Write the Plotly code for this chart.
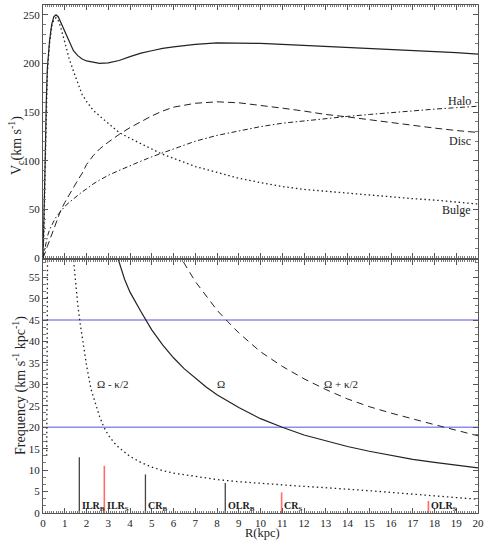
import plotly.graph_objects as go

# ---------------- top panel: rotation curves ----------------
R_top = [0, 0.05, 0.1, 0.15, 0.2, 0.3, 0.4, 0.5, 0.6, 0.7, 0.8, 1.0, 1.2, 1.4, 1.6, 1.8,
         2.0, 2.3, 2.6, 3.0, 3.5, 4.0, 4.5, 5.0, 5.5, 6, 7, 8, 9, 10, 11, 12, 13, 14,
         15, 16, 17, 18, 19, 20]
V_total = [0, 40, 100, 160, 195, 223, 240, 248, 250, 248, 243, 232, 222, 213, 208, 204.5,
           202.5, 201, 200, 200.5, 203, 207, 210.5, 213, 215.5, 217, 219.5, 221, 221, 220.5,
           219.5, 218.5, 217.5, 216.5, 215.5, 214, 213, 212, 211, 209.5]
V_bulge = [0, 35, 95, 155, 190, 220, 238, 245, 247, 244, 238, 222, 205, 192, 179, 168,
           161, 152, 146, 138.5, 129, 123, 117.5, 111.5, 106.5, 102.5, 94, 88, 82, 77.5,
           73.5, 70.5, 68.5, 66.5, 64.5, 62.5, 61, 59.5, 57.5, 55.5]
V_disc = [0, 2.5, 5, 8.5, 12, 18, 25, 32, 38, 43, 48, 57, 65, 73, 80, 87,
          96, 105, 112, 119, 127, 134, 140, 146, 151, 155, 159, 160.5, 159.5, 157,
          154, 151, 147.5, 145, 142, 139, 136, 133.5, 131, 129]
V_halo = [0, 6, 12, 17, 22, 29, 34, 38, 42, 45, 48, 53, 57, 61, 65, 68,
          71, 76, 80, 85, 90, 95, 99.5, 104, 108, 112, 120, 126, 130.5, 135,
          138.5, 141, 143.5, 145.5, 147.5, 149.5, 151.5, 153, 154.5, 156]

# ---------------- bottom panel: frequencies ----------------
R_omega = [3.0, 3.25, 3.5, 3.75, 4.0, 4.5, 5.0, 5.5, 6.0, 6.5, 7.0, 7.5, 8.0, 9, 10, 11,
           12, 13, 14, 15, 16, 17, 18, 19, 20]
Omega = [67, 62.5, 58.5, 54.5, 51.5, 47, 42.7, 39.2, 36.2, 33.6, 31.4, 29.4, 27.6, 24.6,
         22, 20, 18.2, 16.8, 15.5, 14.4, 13.4, 12.5, 11.8, 11.1, 10.5]

R_minus = [1.35, 1.4, 1.5, 1.6, 1.7, 1.8, 2.0, 2.2, 2.4, 2.6, 2.8, 3.0, 3.25, 3.5, 4, 4.5,
           5, 5.5, 6, 7, 8, 9, 10, 11, 12, 13, 14, 15, 16, 17, 18, 19, 20]
Omega_minus = [62, 59, 53, 48.5, 44.5, 41, 34.5, 29, 25.5, 22.5, 20, 18.2, 16.5, 15.2,
               13.2, 11.8, 10.7, 9.9, 9.3, 8.5, 7.8, 7.3, 6.9, 6.6, 6.2, 5.9, 5.6, 5.2,
               4.8, 4.4, 4.0, 3.6, 3.2]
R_minus_inner = [0.21, 0.2, 0.19, 0.18, 0.17]
Omega_minus_inner = [62, 45, 30, 20, 13]

R_plus = [6.2, 6.4, 7, 7.5, 8, 8.5, 9, 10, 11, 12, 13, 14, 15, 16, 17, 18, 19, 20]
Omega_plus = [61, 59, 54, 50.5, 47.3, 44.6, 42, 37.6, 34.2, 31.3, 28.8, 26.6, 24.8,
              23.3, 21.9, 20.6, 19.3, 18]

pattern_speeds = [45, 20]

res_names = ["ILR<sub>B</sub>", "ILR<sub>S</sub>", "CR<sub>B</sub>", "OLR<sub>B</sub>",
             "CR<sub>S</sub>", "OLR<sub>S</sub>"]
res_R = [1.67, 2.82, 4.71, 8.38, 10.97, 17.72]
res_h = [13, 11, 9, 7, 4.8, 2.8]
res_bar = ["B", "S", "B", "B", "S", "S"]

top_labels = ["Halo", "Disc", "Bulge"]
top_label_y = [161, 120, 49]

FONT = "Liberation Serif"
INK = "#222222"

fig = go.Figure()

# top curves
fig.add_trace(go.Scatter(x=R_top, y=V_total, mode="lines", line=dict(color=INK, width=1.2),
                         xaxis="x", yaxis="y", showlegend=False))
fig.add_trace(go.Scatter(x=R_top, y=V_bulge, mode="lines",
                         line=dict(color=INK, width=1.3, dash="1.5px,2.8px"),
                         xaxis="x", yaxis="y", showlegend=False))
fig.add_trace(go.Scatter(x=R_top, y=V_disc, mode="lines",
                         line=dict(color=INK, width=1, dash="7px,4px"),
                         xaxis="x", yaxis="y", showlegend=False))
fig.add_trace(go.Scatter(x=R_top, y=V_halo, mode="lines",
                         line=dict(color=INK, width=1, dash="5px,2.5px,1.5px,2.5px"),
                         xaxis="x", yaxis="y", showlegend=False))

# bottom: pattern-speed lines
for ps in pattern_speeds:
    fig.add_trace(go.Scatter(x=[0, 20], y=[ps, ps], mode="lines",
                             line=dict(color="#8c8cf5", width=1.5),
                             xaxis="x2", yaxis="y2", showlegend=False))

fig.add_trace(go.Scatter(x=R_omega, y=Omega, mode="lines", line=dict(color=INK, width=1.2),
                         xaxis="x2", yaxis="y2", showlegend=False))
fig.add_trace(go.Scatter(x=R_minus, y=Omega_minus, mode="lines",
                         line=dict(color=INK, width=1.3, dash="1.5px,3px"),
                         xaxis="x2", yaxis="y2", showlegend=False))
fig.add_trace(go.Scatter(x=R_minus_inner, y=Omega_minus_inner, mode="lines",
                         line=dict(color=INK, width=1.3, dash="1.5px,3px"),
                         xaxis="x2", yaxis="y2", showlegend=False))
fig.add_trace(go.Scatter(x=R_plus, y=Omega_plus, mode="lines",
                         line=dict(color=INK, width=1, dash="7px,5px"),
                         xaxis="x2", yaxis="y2", showlegend=False))

# resonance bars
for name, r, h, b in zip(res_names, res_R, res_h, res_bar):
    col = "#ff6b6b" if b == "S" else "#444444"
    w = 1.6 if b == "S" else 1.3
    fig.add_trace(go.Scatter(x=[r, r], y=[0, h], mode="lines", line=dict(color=col, width=w),
                             xaxis="x2", yaxis="y2", showlegend=False))

L, Rm, T, B = 43, 13, 5, 27
W, H = 491, 540
pw, ph = W - L - Rm, H - T - B


def px_to_paper(px, py):
    return (px - L) / pw, (H - B - py) / ph


annotations = []
for name, r in zip(res_names, res_R):
    annotations.append(dict(x=r + 0.04, y=0, xref="x2", yref="y2", text="<b>" + name + "</b>",
                            showarrow=False, xanchor="left", yanchor="bottom", yshift=-2,
                            font=dict(family=FONT, size=10, color=INK)))
for t, yv in zip(top_labels, top_label_y):
    annotations.append(dict(x=19.75, y=yv, xref="x", yref="y", text=t, showarrow=False,
                            xanchor="right", yanchor="middle",
                            font=dict(family=FONT, size=12, color=INK)))
annotations += [
    dict(x=3.2, y=30, xref="x2", yref="y2", text="Ω - κ/2", showarrow=False,
         font=dict(family=FONT, size=11, color=INK)),
    dict(x=8.2, y=30, xref="x2", yref="y2", text="Ω", showarrow=False,
         font=dict(family=FONT, size=11, color=INK)),
    dict(x=13.7, y=30, xref="x2", yref="y2", text="Ω + κ/2", showarrow=False,
         font=dict(family=FONT, size=11, color=INK)),
]
for text, px, py in [("V<sub>c</sub>(km s<sup>-1</sup>)", 16, 146),
                     ("Frequency (km s<sup>-1</sup> kpc<sup>-1</sup>)", 19, 386)]:
    ax_, ay_ = px_to_paper(px, py)
    annotations.append(dict(x=ax_, y=ay_, xref="paper", yref="paper", text=text,
                            textangle=-90, showarrow=False, xanchor="center",
                            yanchor="middle", font=dict(family=FONT, size=14, color=INK)))
ax_, ay_ = px_to_paper(262, 541)
annotations.append(dict(x=ax_, y=ay_, xref="paper", yref="paper", text="R(kpc)",
                        showarrow=False, xanchor="center", yanchor="bottom",
                        borderpad=0, font=dict(family=FONT, size=12.5, color=INK)))

axis_common = dict(showline=True, linecolor="#555555", linewidth=1, mirror="allticks",
                   ticks="inside", ticklen=5, tickcolor="#555555", showgrid=False,
                   zeroline=False, automargin=False,
                   tickfont=dict(family=FONT, size=11, color=INK))

fig.update_layout(
    width=W, height=H, margin=dict(l=L, r=Rm, t=T, b=B),
    paper_bgcolor="white", plot_bgcolor="white",
    font=dict(family=FONT, color=INK),
    annotations=annotations,
    xaxis=dict(axis_common, domain=[0, 1], range=[0, 20], anchor="y", dtick=1, tick0=0,
               showticklabels=False,
               minor=dict(dtick=0.1, ticks="inside", ticklen=2, tickcolor="#777777")),
    yaxis=dict(axis_common, domain=[(H - B - 258) / ph, 1], range=[0, 260], anchor="x",
               dtick=50, tick0=0,
               minor=dict(dtick=10, ticks="inside", ticklen=3, tickcolor="#777777")),
    xaxis2=dict(axis_common, domain=[0, 1], range=[0, 20], anchor="y2", dtick=1, tick0=0,
                ticklabelstandoff=0,
                minor=dict(dtick=0.1, ticks="inside", ticklen=2, tickcolor="#777777")),
    yaxis2=dict(axis_common, domain=[0, (H - B - 260) / ph], range=[0, 59], anchor="x2",
                dtick=5, tick0=0,
                minor=dict(dtick=5 / 3, ticks="inside", ticklen=3, tickcolor="#777777")),
)

fig.write_html("out.html", config={"displayModeBar": False},
               post_script="document.body.style.margin='0';document.body.style.padding='0';")
